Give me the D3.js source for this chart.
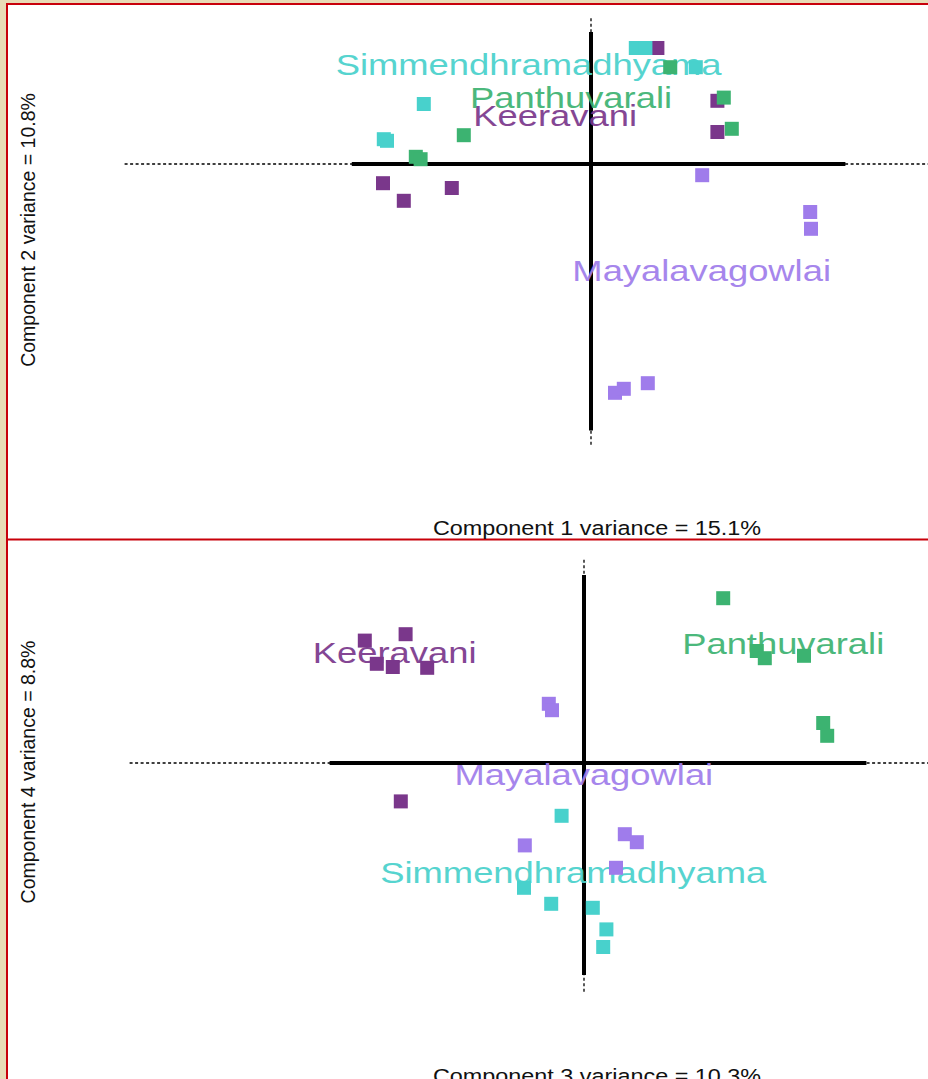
<!DOCTYPE html>
<html lang="en">

<head>
    <meta charset="UTF-8">
    <title>PCA - ragas</title>
    <script src="https://cdn.jsdelivr.net/npm/d3@7/dist/d3.min.js"></script>
    <style>
        body {
            margin: 0;
            background: #e8dbb6;
        }

        svg {
            display: block;
        }

        text {
            font-family: "Liberation Sans", Arial, sans-serif;
        }
    </style>
</head>

<body>
    <svg id="chart" width="928" height="1079"></svg>
    <script>
        // groups (ragas) and their colours
        var ragas = ["Keeravani", "Panthuvarali", "Simmendhramadhyama", "Mayalavagowlai"];
        var ragaColors = ["#7a378b", "#3cb371", "#48d1cc", "#9f7ceb"];
        var groupOf = [0, 0, 0, 0, 0, 0, 1, 1, 1, 1, 1, 1, 2, 2, 2, 2, 2, 2, 3, 3, 3, 3, 3, 3];

        // component scores, 6 recordings per raga in the order above
        var comp1 = [-2.60, -2.34, -1.74, 0.83, 1.58, 1.58,
            -2.19, -2.13, -1.59, 0.99, 1.66, 1.76,
            -2.09, -2.59, -2.55, 0.56, 0.68, 1.31,
            1.39, 2.74, 2.75, 0.30, 0.41, 0.71];
        var comp2 = [-0.24, -0.46, -0.30, 1.45, 0.79, 0.40,
            0.09, 0.06, 0.36, 1.21, 0.83, 0.44,
            0.75, 0.31, 0.29, 1.45, 1.45, 1.21,
            -0.14, -0.60, -0.81, -2.86, -2.81, -2.74];
        var comp3 = [-2.74, -2.23, -2.59, -2.39, -1.96, -2.29,
            1.74, 2.16, 2.26, 2.75, 2.99, 3.04,
            -0.28, -0.75, -0.41, 0.11, 0.28, 0.24,
            -0.44, -0.40, -0.74, 0.51, 0.66, 0.40];
        var comp4 = [1.53, 1.61, 1.24, 1.20, 1.19, -0.48,
            2.06, 1.40, 1.31, 1.34, 0.50, 0.34,
            -0.66, -1.56, -1.76, -1.81, -2.08, -2.30,
            0.74, 0.66, -1.03, -0.89, -0.99, -1.31];

        var variances = [15.1, 10.8, 10.3, 8.8];

        // extent of the solid / dotted axis lines, in score units
        var solidX = [[-2.99, 3.18], [-3.18, 3.53]];
        var solidY = [[-3.33, 1.65], [-2.65, 2.35]];
        var dottedX = [[-5.83, 6], [-5.68, 6]];
        var dottedY = [[-3.51, 1.84], [-2.86, 2.54]];

        var svg = d3.select("#chart");

        var panels = [
            { top: 5, bottom: 539, ox: 591, oy: 164, xs: comp1, ys: comp2, cx: 1, cy: 2, xlab: 535, ylab: 230 },
            { top: 541, bottom: 1079, ox: 584, oy: 763, xs: comp3, ys: comp4, cx: 3, cy: 4, xlab: 1083, ylab: 772 }
        ];
        var unit = 80;

        // white plotting page with red frame
        svg.append("rect").attr("x", 8).attr("y", 5).attr("width", 920).attr("height", 1074)
            .attr("fill", "#fff");
        svg.append("line").attr("x1", 7).attr("x2", 928).attr("y1", 4).attr("y2", 4)
            .attr("stroke", "#c8000a").attr("stroke-width", 2);
        svg.append("line").attr("x1", 7).attr("x2", 7).attr("y1", 3).attr("y2", 1079)
            .attr("stroke", "#c8000a").attr("stroke-width", 2);
        svg.append("line").attr("x1", 7).attr("x2", 928).attr("y1", 539.5).attr("y2", 539.5)
            .attr("stroke", "#c8000a").attr("stroke-width", 2);

        panels.forEach(function (p, k) {
            var x = d3.scaleLinear().domain([-6, 6]).range([p.ox - 6 * unit, p.ox + 6 * unit]);
            var y = d3.scaleLinear().domain([-6, 6]).range([p.oy + 6 * unit, p.oy - 6 * unit]);

            svg.append("clipPath").attr("id", "clip" + k)
                .append("rect").attr("x", 8).attr("y", p.top).attr("width", 920).attr("height", p.bottom - p.top);

            var g = svg.append("g").attr("clip-path", "url(#clip" + k + ")");

            // dotted zero lines
            g.append("line").attr("x1", x(dottedX[k][0])).attr("x2", x(dottedX[k][1]))
                .attr("y1", y(0)).attr("y2", y(0))
                .attr("stroke", "#000").attr("stroke-width", 1.3).attr("stroke-dasharray", "3,2.5");
            g.append("line").attr("x1", x(0)).attr("x2", x(0))
                .attr("y1", y(dottedY[k][0])).attr("y2", y(dottedY[k][1]))
                .attr("stroke", "#000").attr("stroke-width", 1.3).attr("stroke-dasharray", "3,2.5");

            // solid axes
            g.append("line").attr("x1", x(solidX[k][0])).attr("x2", x(solidX[k][1]))
                .attr("y1", y(0)).attr("y2", y(0))
                .attr("stroke", "#000").attr("stroke-width", 4);
            g.append("line").attr("x1", x(0)).attr("x2", x(0))
                .attr("y1", y(solidY[k][0])).attr("y2", y(solidY[k][1]))
                .attr("stroke", "#000").attr("stroke-width", 4);

            // raga names at group centroids
            ragas.forEach(function (name, r) {
                var idx = d3.range(groupOf.length).filter(function (i) { return groupOf[i] == r; });
                var mx = d3.mean(idx, function (i) { return x(p.xs[i]); });
                var my = d3.mean(idx, function (i) { return y(p.ys[i]); });
                g.append("text")
                    .attr("transform", "translate(" + mx + "," + (my - 16) + ") scale(1.22,1)")
                    .attr("text-anchor", "middle")
                    .style("font-size", "29.8px")
                    .style("fill", ragaColors[r])
                    .style("opacity", 0.92)
                    .text(name);
            });

            // points
            g.selectAll("rect.pt").data(d3.range(groupOf.length)).enter()
                .append("rect").attr("class", "pt")
                .attr("x", function (i) { return x(p.xs[i]) - 7; })
                .attr("y", function (i) { return y(p.ys[i]) - 7; })
                .attr("width", 14).attr("height", 14)
                .attr("fill", function (i) { return ragaColors[groupOf[i]]; });

            // axis titles
            g.append("text")
                .attr("transform", "translate(597," + p.xlab + ") scale(1.2,1)")
                .attr("text-anchor", "middle")
                .style("font-size", "19.5px")
                .style("fill", "#111")
                .text("Component " + p.cx + " variance = " + variances[p.cx - 1] + "%");
            g.append("text")
                .attr("transform", "translate(34.5," + p.ylab + ") rotate(-90)")
                .attr("text-anchor", "middle")
                .style("font-size", "19.5px")
                .style("fill", "#111")
                .text("Component " + p.cy + " variance = " + variances[p.cy - 1] + "%");
        });
    </script>
</body>

</html>
